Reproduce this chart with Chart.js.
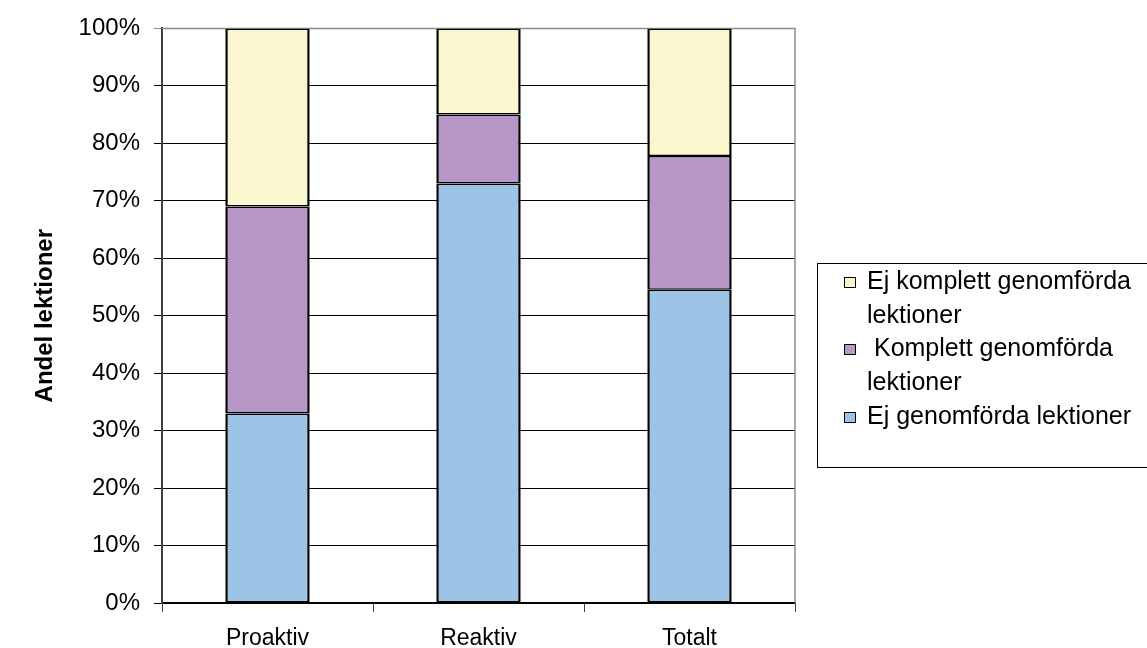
<!DOCTYPE html>
<html>
<head>
<meta charset="utf-8">
<script src="https://cdn.jsdelivr.net/npm/chart.js@4/dist/chart.umd.min.js"></script>
<style>
  html, body { margin: 0; padding: 0; background: #fff; overflow: hidden; }
  #wrap { position: relative; width: 1147px; height: 648px; }
  #legend {
    position: absolute; left: 817px; top: 263px; width: 400px; height: 205px;
    border: 1px solid #000; box-sizing: border-box;
    font-family: 'Liberation Sans', Arial, sans-serif; font-size: 25px; line-height: 33.7px; color: #000;
  }
  .item { position: relative; padding-left: 49px; width: 285px; white-space: pre-wrap; }
  .mark { position: absolute; left: 26px; top: 13px; width: 10px; height: 9px; border: 1px solid #000; }
</style>
</head>
<body>
<div id="wrap">
  <canvas id="chart" width="1147" height="648"></canvas>
  <div id="legend"></div>
</div>
<script>
(function() {
  'use strict';

  const categories = ['Proaktiv', 'Reaktiv', 'Totalt'];
  const ejGenomforda = [33, 73, 54.5];
  const komplettGenomforda = [36, 12, 23.3];
  const ejKomplettGenomforda = [31, 15, 22.2];
  const seriesNames = ['Ej genomförda lektioner', ' Komplett genomförda lektioner', 'Ej komplett genomförda lektioner'];
  const seriesColors = ['#9DC3E6', '#B797C6', '#FAF7CE'];
  const yTicks = [0, 10, 20, 30, 40, 50, 60, 70, 80, 90, 100];

  const font = "'Liberation Sans', Arial, sans-serif";

  // grey frame on top/right of plot area
  const plotFrame = {
    id: 'plotFrame',
    beforeDatasetsDraw(chart) {
      const a = chart.chartArea, c = chart.ctx;
      c.save();
      c.strokeStyle = '#8c8c8c';
      c.lineWidth = 1.5;
      c.beginPath();
      c.moveTo(a.left, a.top);
      c.lineTo(a.right, a.top);
      c.lineTo(a.right, a.bottom);
      c.stroke();
      c.restore();
    }
  };

  const seriesData = [ejGenomforda, komplettGenomforda, ejKomplettGenomforda];
  const datasets = seriesData.map((d, i) => ({
    label: seriesNames[i].trim(),
    data: d,
    backgroundColor: seriesColors[i],
    borderColor: '#000',
    borderWidth: { left: 2.5, right: 2.5, top: 1.5, bottom: 1.5 },
    borderSkipped: false,
    inflateAmount: 0,
    barPercentage: 0.4,
    categoryPercentage: 1
  }));

  new Chart(document.getElementById('chart'), {
    type: 'bar',
    data: { labels: categories, datasets },
    plugins: [plotFrame],
    options: {
      responsive: false, animation: false, devicePixelRatio: 1,
      layout: { padding: { left: 0, right: 352, top: 27, bottom: 0 } },
      plugins: { legend: { display: false }, tooltip: { enabled: false } },
      scales: {
        x: {
          stacked: true,
          offset: true,
          grid: { offset: true, drawOnChartArea: false, drawTicks: true, tickLength: 9, color: '#404040', lineWidth: 1 },
          border: { display: true, color: '#000', width: 1.5 },
          ticks: { color: '#000', font: { family: font, size: 23 }, padding: 13 },
          afterFit: s => { s.height = 45; }
        },
        y: {
          stacked: true, min: 0, max: 100,
          afterBuildTicks: s => { s.ticks = yTicks.map(v => ({ value: v })); },
          grid: {
            color: c => (c.tick && c.tick.value === 100) ? '#8c8c8c' : '#000',
            lineWidth: 1, tickLength: 8
          },
          border: { display: true, color: '#404040', width: 2 },
          ticks: { color: '#000', font: { family: font, size: 24 }, padding: 14, callback: v => v + '%' },
          title: { display: true, text: 'Andel lektioner', color: '#000', font: { family: font, size: 24, weight: 'bold' }, padding: { top: 31, bottom: 0 } },
          afterFit: s => { s.width = 162; }
        }
      }
    }
  });

  // legend, shown in reverse stack order
  const leg = document.getElementById('legend');
  for (let i = seriesNames.length - 1; i >= 0; i--) {
    const it = document.createElement('div');
    it.className = 'item';
    const m = document.createElement('span');
    m.className = 'mark';
    m.style.background = seriesColors[i];
    it.appendChild(m);
    it.appendChild(document.createTextNode(seriesNames[i]));
    leg.appendChild(it);
  }
})();
</script>
</body>
</html>
